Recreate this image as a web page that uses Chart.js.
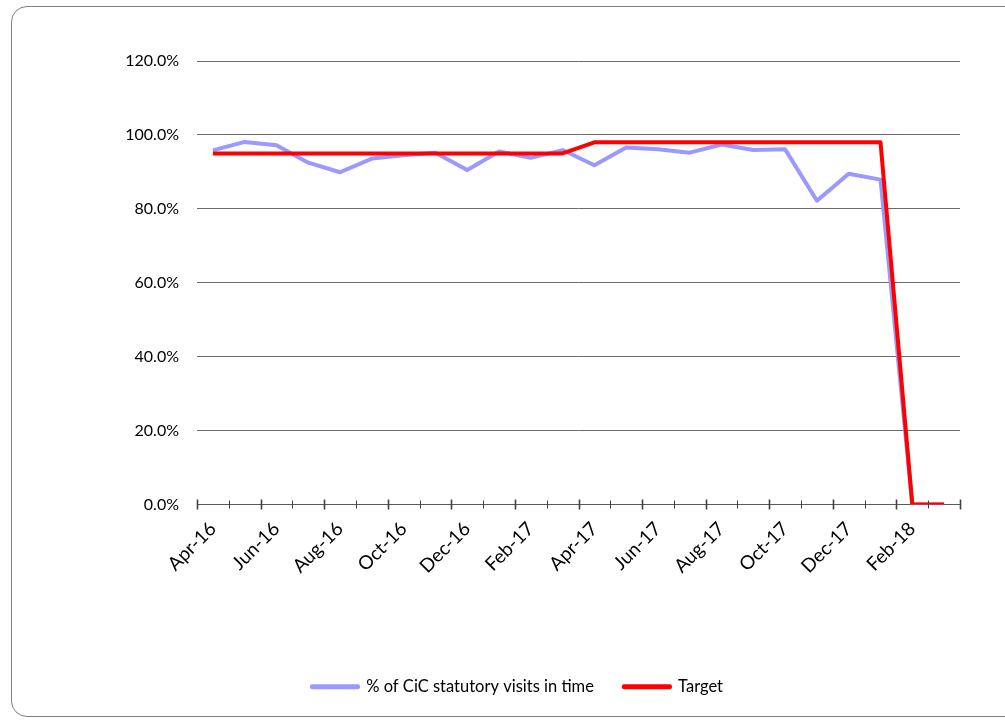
<!DOCTYPE html>
<html>
<head>
<meta charset="utf-8">
<script src="https://cdn.jsdelivr.net/npm/chart.js@4"></script>
<style>
    body { margin: 0; background: #fff; overflow: hidden; }
    #frame {
        position: absolute; left: 11px; top: 6px; width: 1010px; height: 711px;
        border: 1px solid #7f7f7f; border-radius: 16px; box-sizing: border-box;
    }
    #wrap { position: absolute; left: 0; top: 0; width: 1005px; height: 721px; }
</style>
</head>
<body>
<div id="frame"></div>
<div id="wrap"><canvas id="chart" width="1005" height="721"></canvas></div>
<script>
// Monthly categories, Apr-16 .. Mar-18
const months = ['Apr-16', 'May-16', 'Jun-16', 'Jul-16', 'Aug-16', 'Sep-16', 'Oct-16', 'Nov-16',
    'Dec-16', 'Jan-17', 'Feb-17', 'Mar-17', 'Apr-17', 'May-17', 'Jun-17', 'Jul-17', 'Aug-17',
    'Sep-17', 'Oct-17', 'Nov-17', 'Dec-17', 'Jan-18', 'Feb-18', 'Mar-18'];

// % of CiC statutory visits in time
const visitsInTime = [95.8, 98.1, 97.2, 92.5, 89.9, 93.6, 94.5, 95.2, 90.5, 95.5, 93.8, 95.9,
    91.8, 96.6, 96.1, 95.2, 97.4, 95.9, 96.1, 82.2, 89.5, 87.9, 0, 0];

// Target
const target = [95, 95, 95, 95, 95, 95, 95, 95, 95, 95, 95, 95,
    98, 98, 98, 98, 98, 98, 98, 98, 98, 98, 0, 0];

const yTicks = [0, 20, 40, 60, 80, 100, 120];

const FONT = 'Lato, "Open Sans", sans-serif';

// Tick marks crossing the category axis at each month boundary
const crossTicks = {
    id: 'crossTicks',
    afterDatasetsDraw(chart) {
        const x = chart.scales.x;
        const ctx = chart.ctx;
        const half = (x.getPixelForValue(1) - x.getPixelForValue(0)) / 2;
        const yAxis = x.top;
        ctx.save();
        ctx.strokeStyle = '#404040';
        for (let i = 0; i <= months.length; i++) {
            const px = Math.round(x.getPixelForValue(i) - half) + 0.5;
            const major = i % 2 === 0;
            ctx.lineWidth = major ? 1.6 : 1;
            ctx.beginPath();
            ctx.moveTo(px, yAxis - (major ? 5 : 4));
            ctx.lineTo(px, yAxis + (major ? 5 : 4));
            ctx.stroke();
        }
        ctx.restore();
    }
};

document.addEventListener('DOMContentLoaded', () => {
    const ctx = document.getElementById('chart').getContext('2d');
    new Chart(ctx, {
        type: 'line',
        data: {
            labels: months,
            datasets: [{
                label: '% of CiC statutory visits in time',
                data: visitsInTime,
                borderColor: '#9999ff',
                backgroundColor: '#9999ff',
                borderWidth: 4,
                pointRadius: 0,
                tension: 0,
                borderJoinStyle: 'round',
                order: 2
            }, {
                label: 'Target',
                data: target,
                borderColor: '#ff0000',
                backgroundColor: '#ff0000',
                borderWidth: 4,
                pointRadius: 0,
                tension: 0,
                borderJoinStyle: 'round',
                order: 1
            }]
        },
        plugins: [crossTicks],
        options: {
            responsive: false,
            animation: false,
            layout: { padding: { left: 75, right: 45, top: 61, bottom: 16 } },
            plugins: {
                tooltip: { enabled: false },
                legend: {
                    position: 'bottom',
                    labels: {
                        font: { family: FONT, size: 16.5 },
                        color: '#000',
                        boxWidth: 46,
                        boxHeight: 1,
                        padding: 30,
                        sort: (a, b) => a.datasetIndex - b.datasetIndex
                    }
                }
            },
            scales: {
                x: {
                    offset: true,
                    afterFit: (scale) => { scale.height = 144; },
                    border: { display: true, color: '#595959', width: 1 },
                    grid: {
                        offset: true,
                        drawOnChartArea: false,
                        drawTicks: false
                    },
                    ticks: {
                        autoSkip: false,
                        maxRotation: 45,
                        minRotation: 45,
                        padding: 13,
                        color: '#000',
                        font: { family: FONT, size: 19 },
                        callback: function (value, index) {
                            return index % 2 === 0 ? months[index] : '';
                        }
                    }
                },
                y: {
                    min: 0,
                    max: 120,
                    afterFit: (scale) => { scale.width = 122; },
                    afterBuildTicks: (scale) => { scale.ticks = yTicks.map(v => ({ value: v })); },
                    border: { display: false },
                    grid: { drawTicks: false, color: '#6b6b6b', lineWidth: 1 },
                    ticks: {
                        padding: 18,
                        color: '#000',
                        font: { family: FONT, size: 16 },
                        callback: (value) => value.toFixed(1) + '%'
                    }
                }
            }
        }
    });
});
</script>
</body>
</html>
